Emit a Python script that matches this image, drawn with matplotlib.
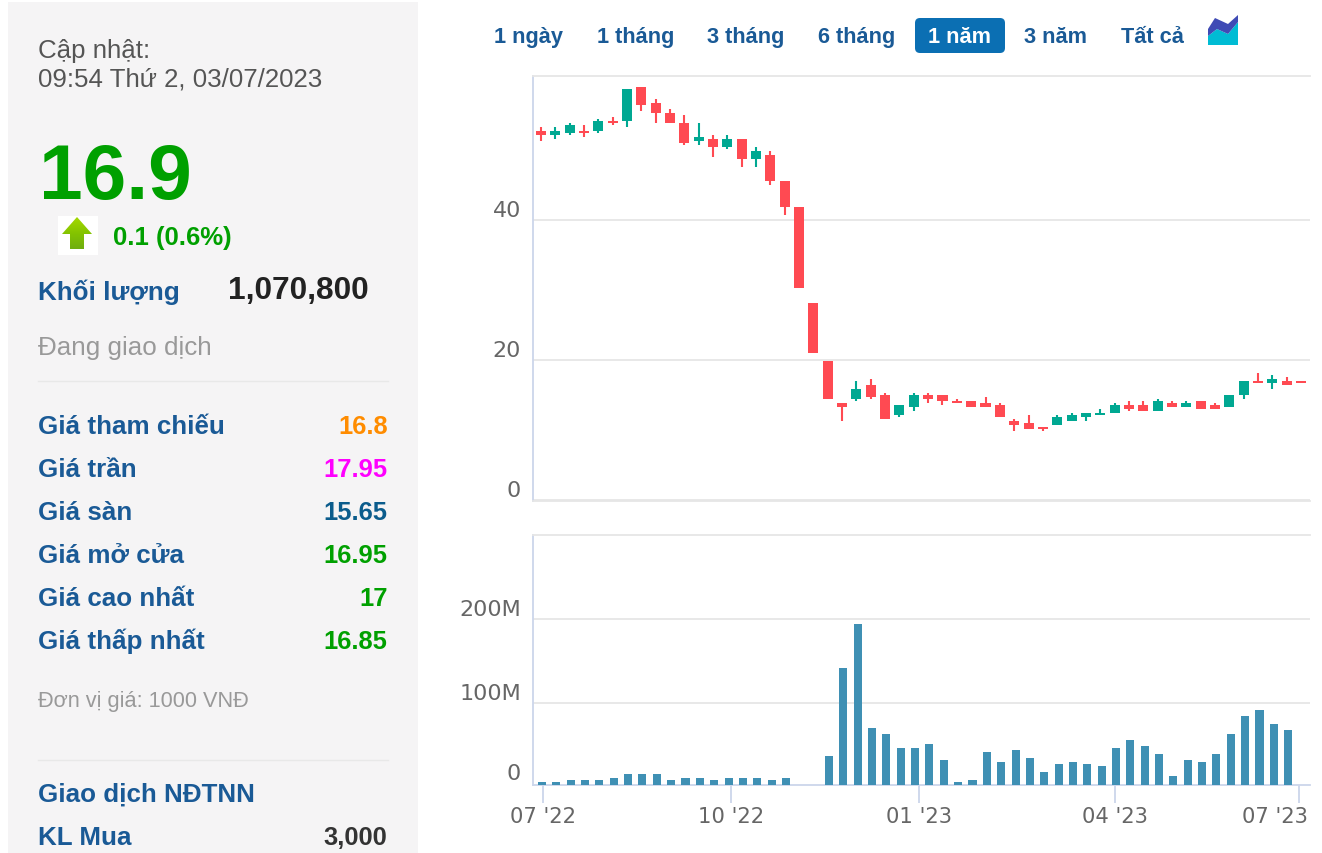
import numpy as np
import matplotlib
matplotlib.use("Agg")
import matplotlib.pyplot as plt
from matplotlib.colors import LinearSegmentedColormap
from matplotlib.patches import FancyBboxPatch, Polygon, Rectangle
from matplotlib.transforms import ScaledTranslation

# weekly candles, thousand VND
opens = [52.72, 52.14, 52.43, 52.72, 52.72, 54.14, 54.14, 59.0, 56.72, 55.29,
         53.86, 51.29, 51.57, 50.43, 51.57, 48.72, 49.29, 45.57, 41.86, 28.1,
         19.86, 13.86, 14.43, 16.43, 15.0, 12.14, 13.29, 15.0, 15.0, 14.14,
         14.14, 13.86, 13.57, 11.29, 11.0, 10.43, 10.71, 11.29, 11.86, 12.14,
         12.43, 13.57, 13.57, 12.71, 13.86, 13.29, 14.14, 13.57, 13.29, 15.0,
         17.0, 16.71, 17.0, 17.0]
closes = [52.14, 52.72, 53.57, 52.43, 54.14, 53.86, 58.72, 56.43, 55.29, 53.86,
          51.0, 51.86, 50.43, 51.57, 48.72, 49.86, 45.57, 41.86, 30.3, 21.0,
          14.43, 13.29, 15.86, 14.71, 11.57, 13.57, 15.0, 14.43, 14.14, 13.86,
          13.29, 13.29, 11.86, 10.71, 10.14, 10.14, 11.86, 12.14, 12.43, 12.43,
          13.57, 13.0, 12.71, 14.14, 13.29, 13.86, 13.0, 13.0, 15.0, 17.0,
          16.71, 17.29, 16.43, 16.71]
highs = [53.29, 53.29, 53.86, 53.57, 54.43, 54.72, 58.72, 59.0, 57.29, 55.86,
         55.0, 53.86, 52.14, 52.14, 51.57, 50.43, 49.86, 45.57, 41.86, 28.1,
         19.86, 13.86, 17.0, 17.29, 15.29, 13.57, 15.29, 15.29, 15.0, 14.43,
         14.14, 14.71, 13.86, 11.57, 12.14, 10.43, 12.14, 12.43, 12.43, 13.0,
         13.86, 14.14, 14.14, 14.43, 14.14, 14.14, 14.14, 13.86, 15.0, 17.0,
         18.14, 17.86, 17.57, 17.0]
lows = [51.29, 51.57, 52.14, 51.86, 52.43, 53.57, 53.29, 55.57, 53.86, 53.86,
        50.72, 50.72, 49.0, 50.14, 47.57, 47.57, 45.0, 40.72, 30.3, 21.0,
        14.43, 11.29, 14.14, 14.43, 11.57, 11.86, 12.71, 13.86, 13.57, 13.86,
        13.29, 13.29, 11.86, 9.86, 10.14, 9.86, 10.71, 11.29, 11.29, 12.14,
        12.43, 12.71, 12.71, 12.71, 13.29, 13.29, 13.0, 13.0, 13.29, 14.43,
        16.71, 15.86, 16.43, 16.71]
# volume in millions, the smallest weeks fall under the clipped axis floor
volumes = [6, 6, 8.3, 8.3, 8.3, 10.7, 15.5, 15.5, 15.5, 8.3,
           10.7, 10.7, 8.3, 10.7, 10.7, 10.7, 8.3, 10.7, 1, 1,
           36.9, 141.7, 194, 70.2, 63, 46.4, 46.4, 51.2, 32.1, 6,
           8.3, 41.7, 29.8, 44, 34.5, 17.9, 27.4, 29.8, 27.4, 25,
           46.4, 56, 48.8, 39.3, 13.1, 32.1, 29.8, 39.3, 63.1, 84.5,
           91.7, 75, 67.9, 1.07]

price_ticks = [0, 20, 40]
volume_ticks = [100, 200]
volume_labels = ["100M", "200M"]
month_pos = [0.07, 13.17, 26.27, 39.93, 52.75]
month_labels = ["07 '22", "10 '22", "01 '23", "04 '23", "07 '23"]

range_labels = ["1 ngày", "1 tháng", "3 tháng", "6 tháng", "1 năm", "3 năm", "Tất cả"]
range_x = [528.5, 635.5, 746, 857, 960, 1056, 1152.5]

row_labels = ["Giá tham chiếu", "Giá trần", "Giá sàn", "Giá mở cửa", "Giá cao nhất", "Giá thấp nhất"]
row_values = ["16.8", "17.95", "15.65", "16.95", "17", "16.85"]
row_colors = ["#ff8c00", "#ff00ff", "#0b5c8c", "#00a000", "#00a000", "#00a000"]

plt.rcParams["font.family"] = ["Liberation Sans", "DejaVu Sans"]
BLUE = "#1a5a96"
UP = "#00a892"
DOWN = "#ff4a52"
GRID = "#e6e6e6"
AXIS = "#ccd6eb"
W, H = 1322, 854

fig = plt.figure(figsize=(W / 100, H / 100), dpi=100)


def pixel_axes(left, top, right, bottom):
    return fig.add_axes([left / W, 1 - bottom / H, (right - left) / W, (bottom - top) / H])


# page layer, coordinates are pixels
bg = fig.add_axes([0, 0, 1, 1])
bg.axis("off")

bg.add_patch(Rectangle((8, 3), 410, 851, color="#f5f4f5", lw=0))
bg.text(38, 58, "Cập nhật:", fontsize=18.6, color="#555555")
bg.text(38, 87, "09:54 Thứ 2, 03/07/2023", fontsize=18.6, color="#555555")
bg.text(39, 199, "16.9", fontsize=56.5, fontweight="bold", color="#00a000")

# arrow icon with its vertical gradient
bg.add_patch(Rectangle((58, 217), 40, 39, color="white", lw=0))
arrow = Polygon([(77, 218), (92, 235), (84, 235), (84, 250), (70, 250), (70, 235), (62, 235)],
                closed=True, color="none", lw=0)
bg.add_patch(arrow)
cmap = LinearSegmentedColormap.from_list("arrow", ["#a4d800", "#84c400", "#6fae10"])
im = bg.imshow(np.linspace(0, 1, 32).reshape(-1, 1), extent=(62, 92, 250, 218), cmap=cmap,
               aspect="auto", zorder=2)
im.set_clip_path(arrow)

bg.text(113, 245, "0.1 (0.6%)", fontsize=18.5, fontweight="bold", color="#00a000")
bg.text(38, 300, "Khối lượng", fontsize=18.7, fontweight="bold", color=BLUE)
bg.text(369, 299, "1,070,800", fontsize=22.8, fontweight="bold", color="#222222", ha="right")
bg.text(38, 355, "Đang giao dịch", fontsize=18.7, color="#999999")
bg.plot([38, 388], [382, 382], color="#e8e8e8", lw=1)
for i in range(len(row_labels)):
    y = 434 + 43 * i
    bg.text(38, y, row_labels[i], fontsize=18.7, fontweight="bold", color=BLUE)
    bg.text(387.5, y, row_values[i], fontsize=18.4, fontweight="bold", color=row_colors[i], ha="right")
bg.text(38, 707, "Đơn vị giá: 1000 VNĐ", fontsize=15.7, color="#999999")
bg.plot([38, 388], [761, 761], color="#e8e8e8", lw=1)
bg.text(38, 802, "Giao dịch NĐTNN", fontsize=18.7, fontweight="bold", color=BLUE)
bg.text(38, 845, "KL Mua", fontsize=18.7, fontweight="bold", color=BLUE)
bg.text(387.5, 845, "3,000", fontsize=18.4, fontweight="bold", color="#333333", ha="right")

# range buttons
bg.add_patch(FancyBboxPatch((919, 23), 82, 27, boxstyle="round,pad=4,rounding_size=5",
                            color="#0b6fb3", lw=0))
for x, label in zip(range_x, range_labels):
    color = "white" if label == "1 năm" else BLUE
    bg.text(x, 43, label, fontsize=15.7, fontweight="bold", color=color, ha="center")
bg.add_patch(Polygon([(1208, 37), (1217, 30), (1228, 35), (1238, 23), (1238, 46), (1208, 46)],
                     closed=True, color="#00bcd4", lw=0))
bg.add_patch(Polygon([(1208, 30), (1215, 19), (1228, 25), (1238, 16), (1238, 23), (1228, 35), (1217, 30), (1208, 37)],
                     closed=True, color="#3f4bb5", lw=0))
bg.set_xlim(0, W)
bg.set_ylim(H, 0)

# price panel
x = np.arange(len(opens))
o = np.array(opens)
c = np.array(closes)
colors = [UP if b >= a else DOWN for a, b in zip(opens, closes)]

ax = pixel_axes(533, 77, 1310, 502)
ax.set_xlim(-0.558, 53.63)
ax.set_ylim(-0.14, 60.57)
ax.vlines(x, lows, highs, colors=colors, lw=1.5, zorder=3)
ax.bar(x, np.abs(c - o), bottom=np.minimum(o, c), width=0.7, color=colors, zorder=3)
ax.set_yticks(price_ticks)
ax.set_yticklabels([str(t) for t in price_ticks])
ax.set_xticks([])
ax.grid(axis="y", color=GRID, lw=1.3)
ax.set_axisbelow(True)

# volume panel, its floor sits a little above the zero of the scale
ax2 = pixel_axes(533, 536, 1310, 786)
ax2.set_xlim(-0.627, 53.52)
ax2.set_ylim(2.4, 300)
ax2.bar(x, volumes, width=0.56, color="#3f90b4", zorder=3)
ax2.set_yticks(volume_ticks)
ax2.set_yticklabels(volume_labels)
ax2.set_xticks(month_pos)
ax2.set_xticklabels(month_labels)
ax2.grid(axis="y", color=GRID, lw=1.3)
ax2.set_axisbelow(True)
ax2.tick_params(axis="x", length=13, width=1.3, color=AXIS, labelsize=15.2, labelcolor="#666666", pad=2,
                labelfontfamily="DejaVu Sans")
ax2.annotate("0", xy=(0, 0), xycoords="axes fraction", xytext=(-8.7, 1.4), textcoords="offset points",
             ha="right", va="bottom", fontsize=16, color="#666666", family="DejaVu Sans")
# last label is pushed back inside the frame
last = ax2.get_xticklabels()[-1]
last.set_transform(last.get_transform() + ScaledTranslation(-24 / 100, 0, fig.dpi_scale_trans))

for a in (ax, ax2):
    a.tick_params(axis="y", length=0, labelsize=16, labelcolor="#666666", pad=8.7,
                  labelfontfamily="DejaVu Sans")
    a.spines["right"].set_visible(False)
    a.spines["left"].set_color(AXIS)
    a.spines["left"].set_linewidth(1.3)
    a.spines["top"].set_color(GRID)
    a.spines["top"].set_linewidth(1.3)
    a.spines["bottom"].set_color(GRID)
    a.spines["bottom"].set_linewidth(1.3)
    for lab in a.get_yticklabels():
        lab.set_verticalalignment("bottom")
ax2.spines["bottom"].set_color(AXIS)

fig.savefig("out.png", dpi=100)
